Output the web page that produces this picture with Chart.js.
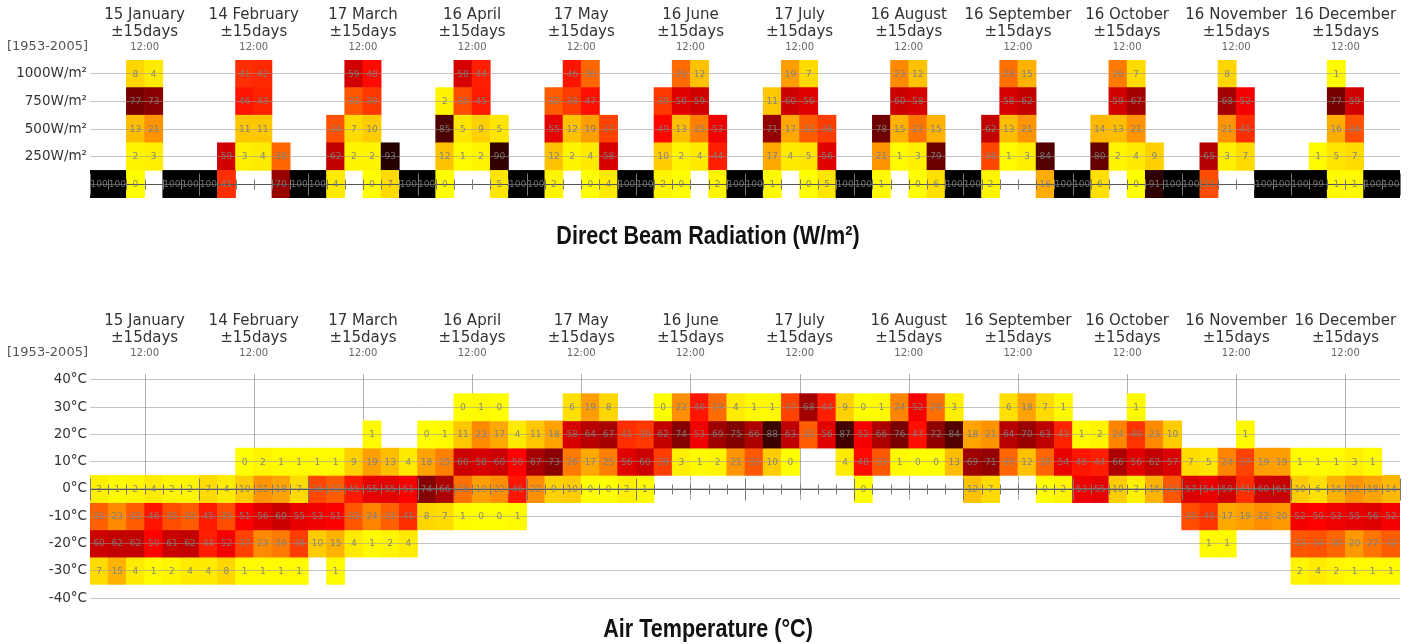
<!DOCTYPE html>
<html>
<head>
<meta charset="utf-8">
<script src="https://cdn.jsdelivr.net/npm/chart.js@4.4.1/dist/chart.umd.min.js"></script>
<style>
  html, body { margin: 0; padding: 0; background: #fff; }
  body { width: 1416px; height: 644px; position: relative; overflow: hidden; }
  canvas { position: absolute; left: 0; }
  #rad { top: 0; }
  #temp { top: 300px; }
</style>
</head>
<body>
<canvas id="rad" width="1416" height="262"></canvas>
<canvas id="temp" width="1416" height="344"></canvas>
<script>
const n = null;

const MONTHS = ["15 January", "14 February", "17 March", "16 April", "17 May", "16 June",
                "17 July", "16 August", "16 September", "16 October", "16 November", "16 December"];
const HOURS = ["00-04", "04-08", "08-12", "12-16", "16-20", "20-24"];
const PERIOD = "[1953-2005]";

const RAD_BINS  = [0, 250, 500, 750, 1000];
const RAD_TICKS = [250, 500, 750, 1000];
const TEMP_BINS  = [30, 20, 10, 0, -10, -20, -30];
const TEMP_TICKS = [-40, -30, -20, -10, 0, 10, 20, 30, 40];

// % of hours per bin, 6 time slots per month (Jan ... Dec)
const rad0 = [
  100,100,0,n,100,100,   100,41,n,n,70,100,   100,4,n,0,7,100,    100,0,n,n,5,100,
  100,2,n,0,4,100,       100,2,0,n,2,100,     100,1,n,0,5,100,    100,1,n,0,6,100,
  100,2,n,n,16,100,      100,6,n,0,91,100,    100,35,n,n,100,100, 100,99,1,1,100,100,
];
const rad250 = [
  n,n,2,3,n,n,   n,59,3,4,30,n,  n,62,2,2,93,n,  n,12,1,2,90,n,
  n,12,2,4,58,n, n,10,2,4,44,n,  n,17,4,5,56,n,  n,21,1,3,79,n,
  n,36,1,3,84,n, n,80,2,4,9,n,   n,65,3,7,n,n,   n,1,5,7,n,n,
];
const rad500 = [
  n,n,13,21,n,n,   n,n,11,11,n,n,   n,34,7,10,n,n,   n,85,5,9,5,n,
  n,55,12,19,37,n, n,49,13,25,53,n, n,71,17,32,38,n, n,78,15,27,15,n,
  n,62,13,21,n,n,  n,14,13,21,n,n,  n,n,21,41,n,n,   n,n,16,34,n,n,
];
const rad750 = [
  n,n,77,73,n,n,  n,n,46,43,n,n,  n,n,33,39,n,n,  n,2,35,45,n,n,
  n,32,38,47,n,n, n,39,56,59,n,n, n,11,60,56,n,n, n,n,60,58,n,n,
  n,n,58,62,n,n,  n,n,59,67,n,n,  n,n,68,52,n,n,  n,n,77,59,n,n,
];
const rad1000 = [
  n,n,8,4,n,n,   n,n,41,42,n,n, n,n,59,48,n,n, n,n,58,44,n,n,
  n,n,46,30,n,n, n,n,29,12,n,n, n,n,19,7,n,n,  n,n,23,12,n,n,
  n,n,28,15,n,n, n,n,26,7,n,n,  n,n,8,n,n,n,   n,n,1,n,n,n,
];

const t30 = [
  n,n,n,n,n,n,   n,n,n,n,n,n,     n,n,n,n,n,n,     n,n,0,1,0,n,
  n,n,6,19,8,n,  n,0,22,46,29,4,  1,1,37,68,44,9,  0,1,24,52,28,3,
  n,n,6,18,7,1,  n,n,n,1,n,n,     n,n,n,n,n,n,     n,n,n,n,n,n,
];
const t20 = [
  n,n,n,n,n,n,          n,n,n,n,n,n,         n,n,n,1,n,n,          0,1,11,23,17,4,
  11,18,58,64,67,41,    39,62,74,53,69,75,   66,88,63,32,56,87,    52,66,76,47,72,84,
  18,21,64,70,63,43,    1,2,24,40,23,10,     n,n,n,1,n,n,          n,n,n,n,n,n,
];
const t10 = [
  n,n,n,n,n,n,          n,n,0,2,1,1,         1,1,9,19,13,4,        18,25,60,58,60,50,
  67,73,26,17,25,56,    60,38,3,1,2,21,      33,10,0,n,n,4,        48,33,1,0,0,13,
  69,71,30,12,30,54,    46,44,66,56,62,57,   7,5,24,37,19,19,      1,1,1,3,1,n,
];
const t0 = [
  3,1,2,4,2,2,          7,4,10,21,18,7,      36,32,45,55,55,51,    74,66,28,19,22,46,
  22,9,10,0,0,3,        1,n,n,n,n,n,         n,n,n,n,n,n,          0,n,n,n,n,n,
  12,7,n,n,0,2,         53,55,10,3,15,33,    57,54,59,41,60,61,    10,6,15,21,18,14,
];
const tM10 = [
  31,23,32,46,35,32,    45,35,51,56,60,55,   53,51,33,24,31,41,    8,7,1,0,0,1,
  n,n,n,n,n,n,          n,n,n,n,n,n,         n,n,n,n,n,n,          n,n,n,n,n,n,
  n,n,n,n,n,n,          n,n,n,n,n,n,         35,40,17,19,22,20,    52,50,53,55,56,52,
];
const tM20 = [
  60,62,62,50,61,62,    44,52,37,23,26,38,   10,15,4,1,2,4,        n,n,n,n,n,n,
  n,n,n,n,n,n,          n,n,n,n,n,n,         n,n,n,n,n,n,          n,n,n,n,n,n,
  n,n,n,n,n,n,          n,n,n,n,n,n,         n,1,1,n,n,n,          33,34,30,20,27,32,
];
const tM30 = [
  7,15,4,1,2,4,         4,8,1,1,1,1,         n,1,n,n,n,n,          n,n,n,n,n,n,
  n,n,n,n,n,n,          n,n,n,n,n,n,         n,n,n,n,n,n,          n,n,n,n,n,n,
  n,n,n,n,n,n,          n,n,n,n,n,n,         n,n,n,n,n,n,          2,4,2,1,1,1,
];

const COLUMNS = MONTHS.flatMap((m) => HOURS.map((h) => `${m} ${h}`));
const FONT = "DejaVu Sans";
const GRID = "rgba(150,150,150,0.55)";

// yellow -> red -> black
function heat(v) {
  if (v <= 50) return `rgb(255,${Math.round(255 * (1 - v / 50))},0)`;
  return `rgb(${Math.round(255 * (1 - (v - 50) / 50))},0,0)`;
}

function cellDatasets(bins, rows, half) {
  return bins.map((b, k) => ({
    data: rows[k].map((v) => (v == null ? null : [b - half, b + half])),
    values: rows[k],
    backgroundColor: rows[k].map((v) => (v == null ? "rgba(0,0,0,0)" : heat(v))),
    grouped: false,
    barPercentage: 1,
    categoryPercentage: 1,
    borderWidth: 0,
  }));
}

const cellPlugin = {
  id: "cells",
  beforeDatasetsDraw(chart, args, opts) {
    if (!opts.noon) return;
    const { ctx, chartArea } = chart;
    const x = chart.scales.x, y = chart.scales.y;
    const w = x.width / COLUMNS.length;
    const y0 = y.getPixelForValue(0);
    ctx.save();
    ctx.strokeStyle = "#b0b0b0";
    ctx.lineWidth = 1;
    MONTHS.forEach((m, i) => {
      const px = Math.round(x.left + w * (i * 6 + 3)) + 0.5;
      ctx.beginPath();
      ctx.moveTo(px, chartArea.top);
      ctx.lineTo(px, y0 + 11);
      ctx.stroke();
    });
    ctx.restore();
  },
  afterDraw(chart, args, opts) {
    const { ctx, chartArea } = chart;
    const x = chart.scales.x, y = chart.scales.y;
    const w = x.width / COLUMNS.length;
    const y0 = Math.round(y.getPixelForValue(0)) + 0.5;

    // zero axis with a tick per time slot
    ctx.save();
    ctx.strokeStyle = "#555";
    ctx.lineWidth = 1.2;
    ctx.beginPath();
    ctx.moveTo(x.left, y0);
    ctx.lineTo(x.right, y0);
    ctx.stroke();
    ctx.lineWidth = 1;
    ctx.strokeStyle = "#777";
    for (let i = 0; i <= COLUMNS.length; i++) {
      const px = Math.round(x.left + w * i) + 0.5;
      const t = i % 6 === 0 ? 11 : 5;
      ctx.beginPath();
      ctx.moveTo(px, y0 - t);
      ctx.lineTo(px, y0 + t);
      ctx.stroke();
    }

    // percentages inside the cells
    ctx.font = `9px ${FONT}`;
    ctx.fillStyle = "rgba(125,125,125,0.9)";
    ctx.textAlign = "center";
    ctx.textBaseline = "middle";
    chart.data.datasets.forEach((ds, k) => {
      chart.getDatasetMeta(k).data.forEach((el, j) => {
        const v = ds.values[j];
        if (v == null) return;
        const c = el.getCenterPoint();
        ctx.fillText(String(v), c.x, c.y + 0.5);
      });
    });

    // period label
    ctx.font = `13px ${FONT}`;
    ctx.fillStyle = "#555";
    ctx.textAlign = "right";
    ctx.fillText(PERIOD, chartArea.left - 2, chartArea.top - opts.periodGap);

    // panel title, narrow bold face
    ctx.font = 'bold 26px "Liberation Sans", sans-serif';
    ctx.fillStyle = "#111";
    ctx.textAlign = "center";
    ctx.textBaseline = "alphabetic";
    ctx.translate(chart.width / 2, opts.titleBase);
    ctx.scale(0.83, 1);
    ctx.fillText(opts.title, 0, 0);
    ctx.restore();
  },
};

function buildChart(id, cfg) {
  return new Chart(document.getElementById(id), {
    type: "bar",
    data: { labels: COLUMNS, datasets: cellDatasets(cfg.bins, cfg.rows, cfg.half) },
    plugins: [cellPlugin],
    options: {
      responsive: false,
      animation: false,
      layout: { padding: { left: 0, right: 16, top: 0, bottom: cfg.bottomPad } },
      plugins: {
        legend: { display: false },
        tooltip: { enabled: false },
        title: { display: false },
        cells: { noon: cfg.noon, periodGap: cfg.periodGap, title: cfg.title, titleBase: cfg.titleBase },
      },
      scales: {
        x: { type: "category", display: false },
        xMonth: {
          type: "category",
          labels: MONTHS,
          position: "top",
          weight: 2,
          afterFit: (s) => { s.height = cfg.monthH; },
          grid: { display: false, drawTicks: false },
          border: { display: false },
          ticks: {
            autoSkip: false, maxRotation: 0, padding: 0, color: "#333",
            font: { family: FONT, size: 15, lineHeight: 1.1 },
            callback: (v, i) => [MONTHS[i], "±15days"],
          },
        },
        xHour: {
          type: "category",
          labels: MONTHS.map(() => "12:00"),
          position: "top",
          weight: 1,
          afterFit: (s) => { s.height = cfg.hourH; },
          grid: { display: false, drawTicks: false },
          border: { display: false },
          ticks: {
            autoSkip: false, maxRotation: 0, padding: cfg.hourPad, color: "#666",
            font: { family: FONT, size: 10, lineHeight: 1.2 },
          },
        },
        y: {
          min: cfg.min,
          max: cfg.max,
          afterBuildTicks: (s) => { s.ticks = cfg.ticks.map((v) => ({ value: v })); },
          afterFit: (s) => { s.width = 90; },
          grid: { color: GRID, drawTicks: false, z: 1 },
          border: { display: false },
          ticks: {
            padding: 3, color: "#333",
            font: { family: FONT, size: 13.5 },
            callback: cfg.tickLabel,
          },
        },
      },
    },
  });
}

buildChart("rad", {
  bins: RAD_BINS,
  rows: [rad0, rad250, rad500, rad750, rad1000],
  half: 125,
  min: -125, max: 1125,
  ticks: RAD_TICKS,
  tickLabel: (v) => `${v}W/m²`,
  title: "Direct Beam Radiation (W/m²)",
  bottomPad: 64, titleBase: 243.5,
  monthH: 40, hourH: 20, hourPad: 7,
  periodGap: 13,
  noon: false,
});

buildChart("temp", {
  bins: TEMP_BINS,
  rows: [t30, t20, t10, t0, tM10, tM20, tM30],
  half: 5,
  min: -40, max: 42.2,
  ticks: TEMP_TICKS,
  tickLabel: (v) => `${v}°C`,
  title: "Air Temperature (°C)",
  bottomPad: 46, titleBase: 336.5,
  monthH: 46, hourH: 28, hourPad: 15,
  periodGap: 21,
  noon: true,
});
</script>
</body>
</html>
